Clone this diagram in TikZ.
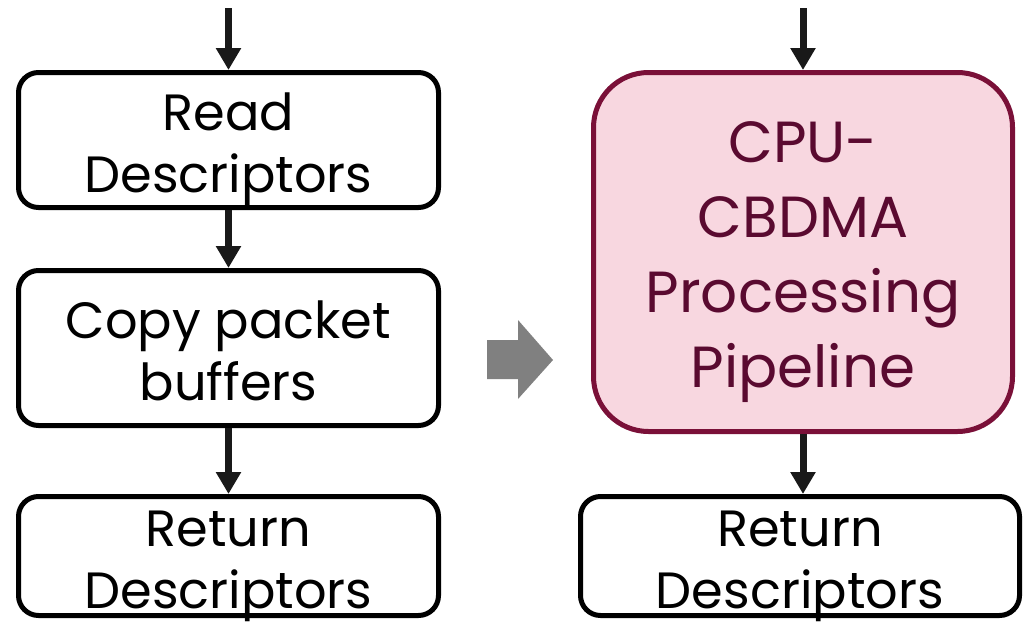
\documentclass[tikz,border=0pt]{standalone}
\usepackage{fontspec}
\setmainfont{Poppins}
\usetikzlibrary{arrows.meta}

\definecolor{pipeborder}{HTML}{7A1038}
\definecolor{pipefill}{HTML}{F8D7E0}
\definecolor{pipetext}{HTML}{5A0A30}
\definecolor{stepgray}{HTML}{808080}

\begin{document}
\begin{tikzpicture}[
  x=1pt, y=-1pt,
  stage/.style={rectangle, draw=black, line width=5pt, fill=white, rounded corners=20pt,
                minimum width=420pt, align=center, inner sep=0pt,
                text height=119pt, text depth=15pt,
                font=\fontsize{51}{62}\selectfont},
  lowstage/.style={stage, minimum height=119pt, text height=111pt, text depth=7pt},
  pipe/.style={rectangle, draw=pipeborder, line width=5pt, fill=pipefill, rounded corners=55pt,
               minimum width=419pt, minimum height=359pt, align=center, inner sep=0pt,
               text height=288pt, text depth=18pt,
               text=pipetext, font=\fontsize{58}{75}\selectfont},
  flow/.style={line width=7pt, black!90, -{Triangle[length=22pt, width=24pt]}}
]
  \useasboundingbox (0,0) rectangle (1025,621);

  % ── Left column: plain CPU copy path ──────────────────────────────────
  \node[stage, minimum height=135pt] (readL)   at (228.5,140) {Read\\Descriptors};
  \node[stage, minimum height=155pt] (copyL)   at (228.5,348) {Copy packet\\buffers};
  \node[lowstage]                    (returnL) at (228.5,556) {Return\\Descriptors};
  \coordinate (inL) at (228.5,8);

  % ── Right column: offloaded pipeline ──────────────────────────────────
  \node[pipe] (pipeR) at (803,252) {CPU-\\CBDMA\\Processing\\Pipeline};
  \node[lowstage, minimum width=439pt] (returnR) at (800,556) {Return\\Descriptors};
  \coordinate (inR) at (803,8);

  % ── Flow arrows ───────────────────────────────────────────────────────
  \draw[flow] (inL) -- (readL.north);
  \draw[flow] (readL.south) -- (copyL.north);
  \draw[flow] (copyL.south) -- (returnL.north);
  \draw[flow] (inR) -- (pipeR.north);
  \draw[flow] (pipeR.south) -- (returnR.north -| pipeR.south);

  % block arrow between the columns
  \fill[stepgray] (487,340) -- (518,340) -- (518,320) -- (553,360)
                  -- (518,399) -- (518,379) -- (487,379) -- cycle;
\end{tikzpicture}
\end{document}
